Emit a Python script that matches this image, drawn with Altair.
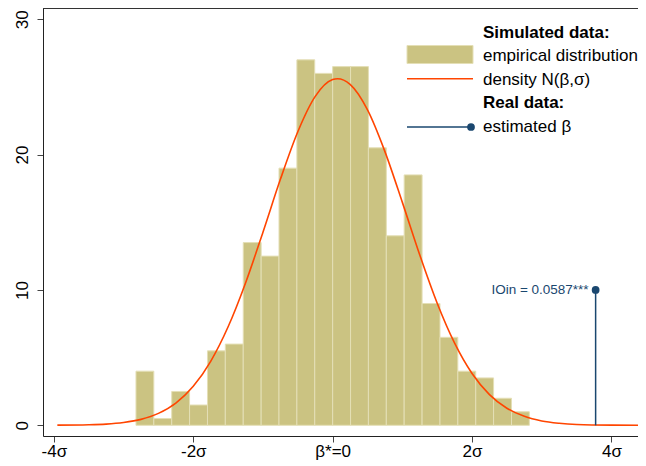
import altair as alt
import pandas as pd

# ---- data ----
bin_edges = [-2.822, -2.566, -2.309, -2.053, -1.796, -1.540, -1.283, -1.026,
             -0.770, -0.513, -0.257, 0.0, 0.257, 0.513, 0.770, 1.026, 1.283,
             1.540, 1.796, 2.053, 2.309, 2.566, 2.822]
counts = [4, 0.5, 2.5, 1.5, 5.5, 6, 13.5, 12.5, 19, 27, 26, 26.5, 26.5, 20.5,
          14, 18.5, 9, 6.5, 4, 3.5, 2, 1]

curve_x = [-3.95, -3.5, -3.25, -3.0, -2.75, -2.5, -2.25, -2.0, -1.75, -1.5,
           -1.25, -1.0, -0.75, -0.5, -0.25, 0.0, 0.07, 0.25, 0.5, 0.75, 1.0,
           1.25, 1.5, 1.75, 2.0, 2.25, 2.5, 2.75, 3.0, 3.25, 3.5, 4.0, 4.5]
curve_y = [0.01, 0.04, 0.09, 0.21, 0.44, 0.88, 1.64, 2.88, 4.73, 7.28,
           10.52, 14.27, 18.17, 21.69, 24.30, 25.54, 25.60, 25.18, 23.30, 20.22, 16.47,
           12.58, 9.02, 6.07, 3.83, 2.27, 1.26, 0.66, 0.32, 0.15, 0.06, 0.01, 0.0]

beta_x = [3.773]
beta_y = [10]
beta_label = ["IOin = 0.0587***"]

tick_values = [-4, -2, 0, 2, 4]
tick_labels = ["-4σ", "-2σ", "β*=0", "2σ", "4σ"]
y_ticks = [0, 10, 20, 30]

legend_labels = ["Simulated data:", "empirical distribution", "density N(β,σ)",
                 "Real data:", "estimated β"]

# ---- styling ----
KHAKI = "#cbc382"
KHAKI_EDGE = "#e4dfb6"
ORANGE = "#ff4500"
NAVY = "#1a476f"
FONT = "Liberation Sans"
W, H = 595, 428

bars = pd.DataFrame({"x0": bin_edges[:-1], "x1": bin_edges[1:], "count": counts})
curve = pd.DataFrame({"x": curve_x, "y": curve_y})
beta = pd.DataFrame({"x": beta_x, "y": beta_y, "label": beta_label})

expr = "''"
for v, l in reversed(list(zip(tick_values, tick_labels))):
    expr = f"datum.value == {v} ? '{l}' : ({expr})"

xscale = alt.Scale(domain=[-4.156, 4.381], nice=False, zero=False)
yscale = alt.Scale(domain=[-0.79, 30.83], nice=False, zero=False)

xaxis = alt.Axis(values=tick_values, labelExpr=expr, title=None, grid=False,
                 labelFontSize=17, labelFont=FONT, labelColor="#000",
                 tickSize=6, tickColor="#444", domainColor="#222",
                 labelPadding=1, labelFlush=False)
yaxis = alt.Axis(values=y_ticks, title=None, grid=False, labelAngle=270,
                 labelFontSize=17, labelFont=FONT, labelColor="#000",
                 tickSize=6, tickColor="#444", domainColor="#222",
                 labelPadding=6)

hist = alt.Chart(bars).mark_rect(fill=KHAKI, stroke=KHAKI_EDGE, strokeWidth=1).encode(
    x=alt.X("x0:Q", scale=xscale, axis=xaxis),
    x2="x1:Q",
    y=alt.Y("count:Q", scale=yscale, axis=yaxis),
    y2=alt.datum(0),
)

line = alt.Chart(curve).mark_line(color=ORANGE, strokeWidth=1.6, interpolate="monotone",
                                  clip=True).encode(
    x=alt.X("x:Q", scale=xscale),
    y=alt.Y("y:Q", scale=yscale),
)

stem = alt.Chart(beta).mark_rule(color=NAVY, strokeWidth=1.5).encode(
    x=alt.X("x:Q", scale=xscale),
    y=alt.Y("y:Q", scale=yscale),
    y2=alt.datum(0),
)
dot = alt.Chart(beta).mark_point(filled=True, color=NAVY, size=60, opacity=1).encode(
    x=alt.X("x:Q", scale=xscale),
    y=alt.Y("y:Q", scale=yscale),
)
lab = alt.Chart(beta).mark_text(align="right", baseline="middle", dx=-7, dy=0,
                                fontSize=13.5, font=FONT, color=NAVY).encode(
    x=alt.X("x:Q", scale=xscale),
    y=alt.Y("y:Q", scale=yscale),
    text="label:N",
)

# top frame line
one = pd.DataFrame({"k": [0]})
top_line = alt.Chart(one).mark_rule(color="#333", strokeWidth=1).encode(
    x=alt.value(0), x2=alt.value(W), y=alt.value(0.5))

# ---- manual legend ----
def leg_text(i, y, bold=False):
    return alt.Chart(pd.DataFrame({"t": [legend_labels[i]]})).mark_text(
        align="left", baseline="alphabetic", fontSize=17, font=FONT, color="#000",
        fontWeight="bold" if bold else "normal").encode(
        x=alt.value(440), y=alt.value(y), text="t:N")

leg_rect = alt.Chart(one).mark_rect(fill=KHAKI, stroke=KHAKI_EDGE, strokeWidth=1).encode(
    x=alt.value(364), x2=alt.value(430), y=alt.value(37.5), y2=alt.value(55.5))
leg_orange = alt.Chart(one).mark_rule(color=ORANGE, strokeWidth=1.6).encode(
    x=alt.value(364), x2=alt.value(430), y=alt.value(70.7))
leg_navy = alt.Chart(one).mark_rule(color=NAVY, strokeWidth=1.5).encode(
    x=alt.value(364), x2=alt.value(428), y=alt.value(119))
leg_dot = alt.Chart(one).mark_point(filled=True, color=NAVY, size=60, opacity=1).encode(
    x=alt.value(428), y=alt.value(119))

chart = alt.layer(
    hist, line, stem, dot, lab, top_line,
    leg_rect, leg_orange, leg_navy, leg_dot,
    leg_text(0, 29.5, True), leg_text(1, 53), leg_text(2, 76.5),
    leg_text(3, 100, True), leg_text(4, 124),
).properties(
    width=W, height=H,
    autosize=alt.AutoSizeParams(type="none"),
    padding={"left": 35, "top": 0, "right": 0, "bottom": 27},
).configure_view(stroke=None).configure(background="white")

chart.save("out.html", embed_options={"renderer": "svg", "actions": False})
